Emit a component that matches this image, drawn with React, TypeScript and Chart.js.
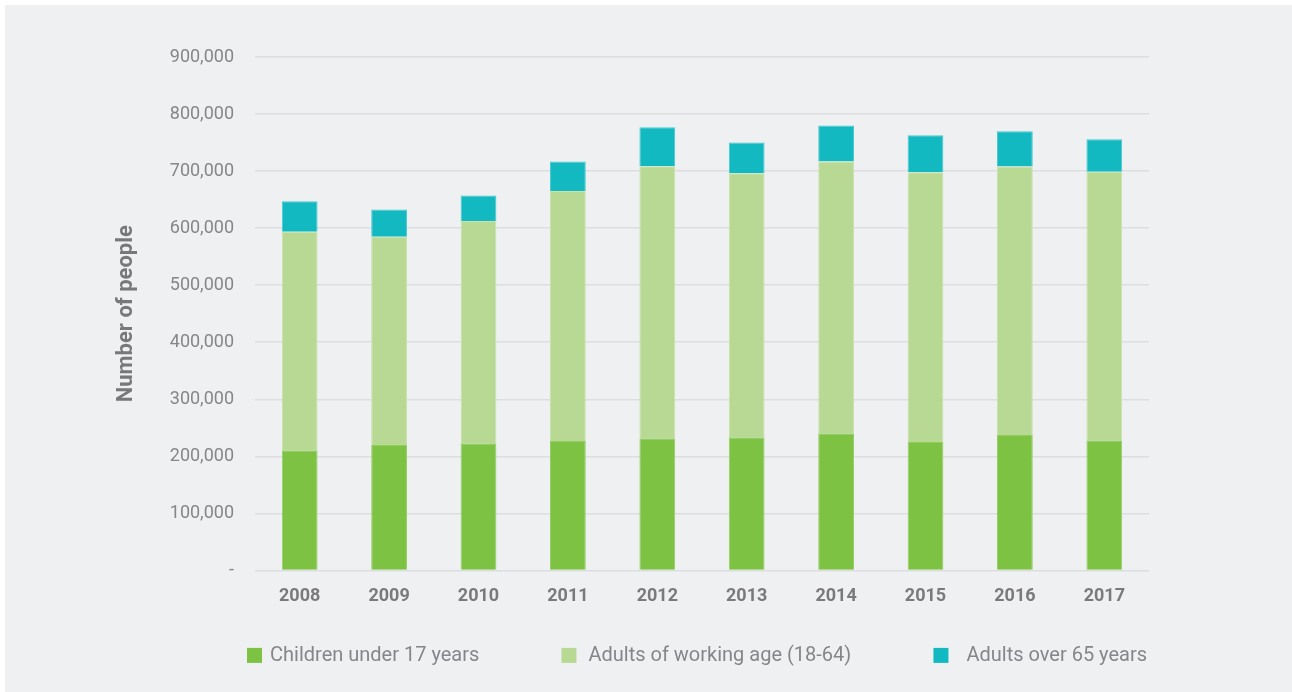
import React, { useEffect, useRef } from "react";
import { Chart, registerables } from "chart.js";

Chart.register(...registerables);

const YEARS = ["2008", "2009", "2010", "2011", "2012", "2013", "2014", "2015", "2016", "2017"];
const CHILDREN = [210500, 219800, 222800, 226900, 231600, 233300, 240400, 225000, 237400, 228000];
const WORKING = [383000, 365000, 389500, 438100, 476900, 462700, 476600, 473000, 470600, 471000];
const OVER65 = [53500, 48000, 45100, 52000, 68500, 54000, 63000, 65000, 62000, 57000];
const SERIES_LABELS = ["Children under 17 years", "Adults of working age (18-64)", "Adults over 65 years"];
const Y_MAX = 900000;
const Y_STEP = 100000;

const COLORS = ["#7dc243", "#b8d994", "#12b9c1"];
const BORDERS = ["#93cd62", "#c8e2aa", "#45c8cd"];
const LEGEND_GAPS = [8, 12, 18];

const legendPlugin = {
  id: "justifiedLegend",
  afterDraw(chart: any) {
    const { ctx, chartArea } = chart;
    ctx.save();
    ctx.font = "20px Roboto";
    const items = chart.data.datasets.map((ds: any, i: number) => ({
      label: ds.label as string,
      color: COLORS[i],
      gap: LEGEND_GAPS[i],
    }));
    const widths = items.map((it: any) => 15 + it.gap + ctx.measureText(it.label).width);
    const left = chartArea.left - 8;
    const right = chartArea.right - 2;
    const total = widths.reduce((a: number, b: number) => a + b, 0);
    const space = (right - left - total) / (items.length - 1);
    let x = left;
    const y = chartArea.bottom + 85;
    items.forEach((it: any, i: number) => {
      ctx.fillStyle = it.color;
      ctx.fillRect(x, y - 7.5, 15, 15);
      ctx.fillStyle = "#85868a";
      ctx.textBaseline = "middle";
      ctx.textAlign = "left";
      ctx.fillText(it.label, x + 15 + it.gap, y + 1);
      x += widths[i] + space;
    });
    ctx.restore();
  },
};

export default function App() {
  const ref = useRef<HTMLCanvasElement | null>(null);

  useEffect(() => {
    document.body.style.margin = "0";
    const canvas = ref.current;
    if (!canvas) return;
    const seriesData = [CHILDREN, WORKING, OVER65];
    const chart = new Chart(canvas, {
      type: "bar",
      data: {
        labels: YEARS,
        datasets: SERIES_LABELS.map((label, i) => ({
          label,
          data: seriesData[i],
          backgroundColor: COLORS[i],
          borderColor: BORDERS[i],
          borderWidth: 1,
          barPercentage: 0.4,
          categoryPercentage: 1,
        })),
      },
      options: {
        responsive: false,
        animation: false,
        layout: { padding: { left: 108, top: 52, right: 143, bottom: 70 } },
        plugins: {
          legend: { display: false },
          tooltip: { enabled: false },
        },
        scales: {
          x: {
            stacked: true,
            grid: { display: false, drawTicks: false },
            border: { display: false },
            ticks: {
              padding: 15,
              color: "#7a7a7c",
              font: { family: "Roboto", size: 18, weight: "bold" },
            },
          },
          y: {
            stacked: true,
            min: 0,
            max: Y_MAX,
            afterFit: (s: any) => {
              s.width = 142;
            },
            grid: { color: "#dcdde0", lineWidth: 1.5, drawTicks: false },
            border: { display: false },
            ticks: {
              stepSize: Y_STEP,
              padding: 21,
              color: "#858688",
              font: { family: "Roboto", size: 18 },
              callback: (v: any) => (Number(v) === 0 ? "-" : Number(v).toLocaleString("en-US")),
            },
            title: {
              display: true,
              text: "Number of people",
              color: "#77787a",
              font: { family: "Roboto", size: 22, weight: "bold" },
              padding: { top: 0, bottom: 0 },
            },
          },
        },
      },
      plugins: [legendPlugin],
    });
    return () => chart.destroy();
  }, []);

  return (
    <div
      style={{
        position: "absolute",
        left: 5,
        top: 5,
        width: 1287,
        height: 687,
        background: "#eff0f2",
      }}
    >
      <canvas ref={ref} width={1287} height={687} style={{ display: "block" }} />
    </div>
  );
}
